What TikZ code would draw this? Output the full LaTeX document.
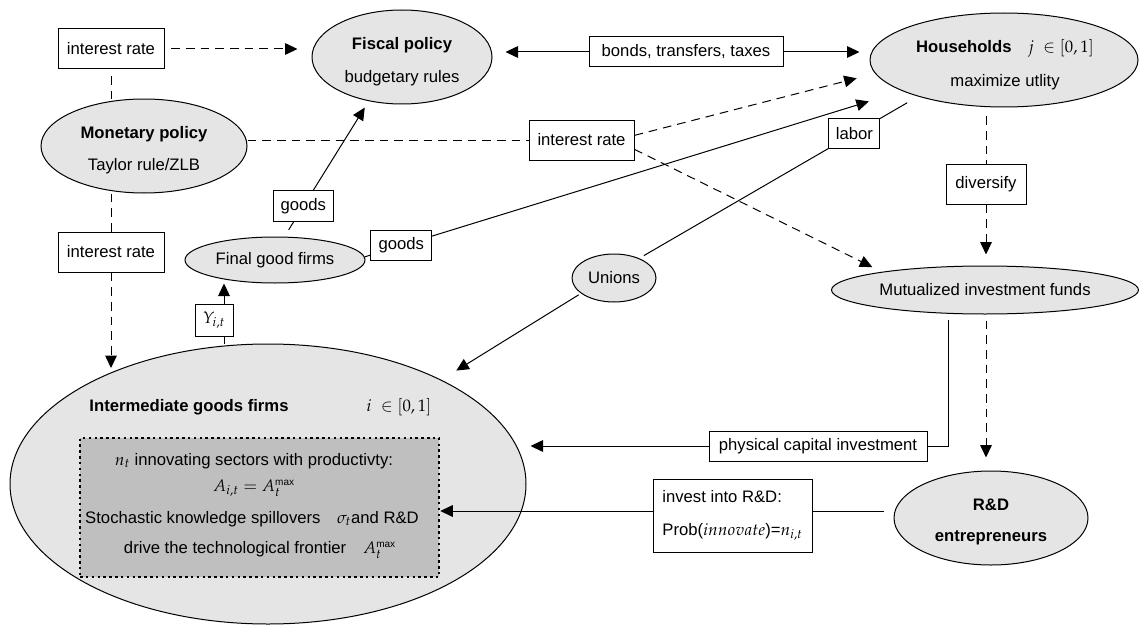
\documentclass[tikz,border=0pt]{standalone}
\usepackage{mathpazo}
\usepackage[no-math]{fontspec}
\setmainfont{Liberation Sans}
\usetikzlibrary{arrows.meta,shapes.geometric,calc}
\newcommand{\supmax}{\hbox{\fontsize{6}{6}\selectfont max}}
\begin{document}
\begin{tikzpicture}[x=0.6pt,y=-0.6pt,
  font=\fontsize{10}{12}\selectfont,
  ell/.style={ellipse, draw, fill=gray!20, inner sep=0pt, line width=0.6pt},
  box/.style={rectangle, draw, fill=white, inner sep=0pt, line width=0.6pt},
  conn/.style={line width=0.6pt},
  arr/.style={-{Triangle[length=7.5pt,width=7pt]}},
  dsh/.style={dash pattern=on 5.2pt off 3.6pt},
  txt/.style={inner sep=0pt},
]
\useasboundingbox (0,0) rectangle (1140,626);

% ellipses
\node[ell, minimum width=309.6pt, minimum height=168pt] (inter) at (268,484) {};
\node[rectangle, draw, fill=gray!50, line width=1.5pt, dash pattern=on 1.5pt off 2pt,
      minimum width=215.4pt, minimum height=83.4pt, inner sep=0pt] (core) at (259.5,507.5) {};
\node[txt, font=\bfseries] (interA) at (189,407) {Intermediate goods firms};
\node[txt] (interB) at (399,407) {$i\ \in[0,1]$};
\node[txt] (c1) at (254,461) {$n_t$ innovating sectors with productivty:};
\node[txt] (c2) at (254,488) {$A_{i,t}=A_t^{\supmax}$};
\node[txt] (c3) at (252,519) {Stochastic knowledge spillovers\quad $\sigma_t$and R\&D};
\node[txt] (c4) at (260,550) {drive the technological frontier\quad $A_t^{\supmax}$};

\node[ell, minimum width=108pt, minimum height=56.4pt] (fiscal) at (402,57) {};
\node[txt, font=\bfseries] (fiscalA) at (402,45) {Fiscal policy};
\node[txt] (fiscalB) at (402,78) {budgetary rules};

\node[ell, minimum width=160.8pt, minimum height=56.4pt] (hh) at (1004,60) {};
\node[txt] (hhA) at (1005,48) {\textbf{Households}\quad $j\ \in[0,1]$};
\node[txt] (hhB) at (1005,82) {maximize utlity};

\node[ell, minimum width=123.6pt, minimum height=56.4pt] (mon) at (144,146) {};
\node[txt, font=\bfseries] (monA) at (144,134) {Monetary policy};
\node[txt] (monB) at (144,166) {Taylor rule/ZLB};

\node[ell, minimum width=108pt, minimum height=27.6pt] (final) at (275,260) {Final good firms};
\node[ell, minimum width=50.4pt, minimum height=28.8pt] (unions) at (614,278) {Unions};
\node[ell, minimum width=184.2pt, minimum height=28.8pt] (mut) at (985,290) {Mutualized investment funds};

\node[ell, minimum width=116.4pt, minimum height=56.4pt] (rd) at (991,518) {};
\node[txt, font=\bfseries] (rdA) at (991,505) {R\&D};
\node[txt, font=\bfseries] (rdB) at (991,538) {entrepreneurs};

% boxes
\node[box, minimum width=63.6pt, minimum height=24pt] (ir1) at (111,49) {interest rate};
\node[box, minimum width=63.6pt, minimum height=24pt] (ir2) at (111,252) {interest rate};
\node[box, minimum width=63pt, minimum height=24pt] (ir3) at (581.5,140) {interest rate};
\node[box, minimum width=116.4pt, minimum height=18pt] (bonds) at (686,52) {bonds, transfers, taxes};
\node[box, minimum width=48pt, minimum height=24pt] (div) at (986,184) {diversify};
\node[box, minimum width=22.8pt, minimum height=19.2pt] (Y) at (214,320) {$Y_{i,t}$};
\node[box, minimum width=130.8pt, minimum height=18pt] (phys) at (818,446) {physical capital investment};
\node[box, minimum width=95.4pt, minimum height=43.8pt, align=left] (inv) at (732.5,515.5)
  {invest into R\&D:\\[7.8pt]Prob($innovate$)=$n_{i,t}$};

\coordinate (invR) at ([yshift=2.7pt]inv.east);
\coordinate (invL) at ([yshift=2.7pt]inv.west);
\coordinate (Yn) at ([xshift=6pt]Y.north);
\coordinate (Ys) at ([xshift=6pt]Y.south);

% connectors
\begin{scope}[conn]
\draw[dsh, shorten <=4pt] (ir1.south) -- (ir1.south |- mon.north);
\draw[dsh, arr, shorten <=4pt, shorten >=8.4pt] (ir1.east) -- (ir1.east -| fiscal.west);

\draw[dsh] (ir2.north |- mon.south) -- (ir2.north);
\draw[dsh, arr, shorten >=3pt] (ir2.south) -- (ir2.south |- inter.145);

\draw[dsh] (ir3.west -| mon.east) -- (ir3.west);
\draw[dsh, arr, shorten >=11.4pt] (ir3.5) -- (hh.186.9);
\draw[dsh, arr, shorten >=6.4pt] (ir3.-10) -- (mut.170.7);

\draw[arr, shorten >=7.8pt] (bonds.west) -- (bonds.west -| fiscal.east);
\draw[arr, shorten >=6pt] (bonds.east) -- (bonds.east -| hh.west);

\draw[arr, shorten <=4.8pt, shorten >=4.5pt] (final.68.5) --
  node[box, pos=0.224, minimum width=36pt, minimum height=18.6pt] (goods1) {goods} (fiscal.233.5);
\draw[arr, shorten >=21pt] (final.2.6) --
  node[box, pos=0.068, minimum width=36.6pt, minimum height=18pt] (goods2) {goods} (hh.197.6);

\draw[shorten <=7.5pt, shorten >=3.2pt] (hh.203.6) --
  node[box, pos=0.228, minimum width=30.6pt, minimum height=18pt] (labor) {labor} (unions.38.6);
\draw[arr, shorten <=1.6pt, shorten >=10.5pt] (unions.205.5) -- (inter.31.6);

\draw[dsh, shorten <=5.4pt] (div.north |- hh.south) -- (div.north);
\draw[dsh, arr, shorten >=6.6pt] (div.south) -- (div.south |- mut.north);
\draw[dsh, arr, shorten <=3.6pt, shorten >=7.8pt] (div |- mut.south) -- (div |- rd.north);

\draw[shorten <=4pt] (mut.213) |- (phys.east);
\draw[arr, shorten >=2.4pt] (phys.west) -- (phys.west -| inter.east);

\draw[shorten <=6pt] (invR -| rd.west) -- (invR);
\draw[arr] (invL) -- (invL -| core.east);

\draw[arr] (Yn) -- (Yn |- final.south);
\draw (Ys) -- (Ys |- inter.north);
\end{scope}
\end{tikzpicture}
\end{document}
